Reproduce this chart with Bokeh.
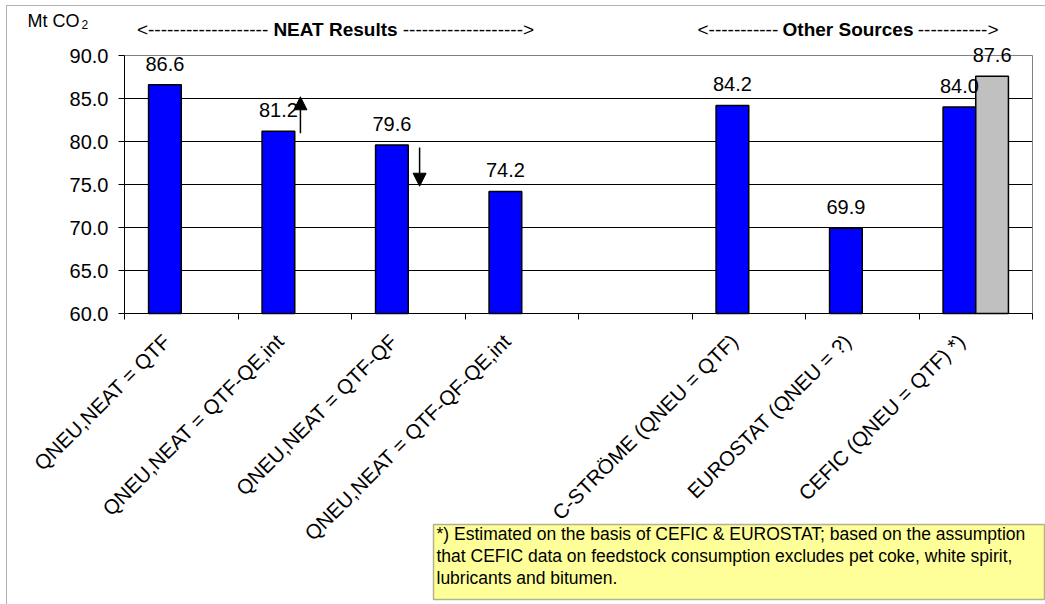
import math

from bokeh.core.properties import value
from bokeh.embed import file_html
from bokeh.models import (Arrow, BoxAnnotation, ColumnDataSource, FixedTicker,
                          Label, LabelSet, LinearAxis, NormalHead,
                          PrintfTickFormatter, Range1d)
from bokeh.plotting import figure
from bokeh.resources import INLINE

# --- data -------------------------------------------------------------------
categories = [
    "QNEU,NEAT = QTF",
    "QNEU,NEAT = QTF-QE,int",
    "QNEU,NEAT = QTF-QF",
    "QNEU,NEAT = QTF-QF-QE,int",
    "",
    "C-STRÖME (QNEU = QTF)",
    "EUROSTAT (QNEU = ?)",
    "CEFIC (QNEU = QTF) *)",
]
main_values = [86.6, 81.2, 79.6, 74.2, None, 84.2, 69.9, 84.0]
estimate_values = [None, None, None, None, None, None, None, 87.6]

y_ticks = [60.0, 65.0, 70.0, 75.0, 80.0, 85.0, 90.0]

# trend arrows next to two NEAT bars: (category index, offset, from, to)
arrow_marks = [(1, 0.05, 80.95, 85.2), (2, 0.10, 79.3, 74.8)]

group_headers = ["NEAT Results", "Other Sources"]
note_lines = [
    "*) Estimated on the basis of CEFIC & EUROSTAT; based on the assumption",
    "that CEFIC data on feedstock consumption excludes pet coke, white spirit,",
    "lubricants and bitumen.",
]

# --- layout constants (canvas pixels) -----------------------------------------
FONT = "Liberation Sans"
W, H = 1045, 604
PX_LEFT, PX_RIGHT, PX_TOP, PX_BOTTOM = 124, 1032, 55, 313
BAR_W = 0.288
n = len(categories)
Y0, Y1 = y_ticks[0], y_ticks[-1]

# the frame fills the whole canvas; the value area sits inside it
sx = (PX_RIGHT - PX_LEFT) / n
sy = (PX_BOTTOM - PX_TOP) / (Y1 - Y0)
x_range = Range1d(-PX_LEFT / sx, n + (W - PX_RIGHT) / sx)
y_range = Range1d(Y0 - (H - PX_BOTTOM) / sy, Y1 + PX_TOP / sy)

p = figure(width=W, height=H, x_range=x_range, y_range=y_range,
           x_axis_location=None, y_axis_location=None,
           output_backend="svg", toolbar_location=None,
           min_border=0, min_border_left=0, min_border_right=0,
           min_border_top=0, min_border_bottom=0)
p.background_fill_color = "white"
p.border_fill_color = "white"
p.outline_line_color = None
p.grid.visible = False

# horizontal gridlines and the grey plot-area border
inner = y_ticks[1:-1]
p.segment(x0=[0] * len(inner), x1=[n] * len(inner), y0=inner, y1=inner,
          line_color="black", line_width=1)
p.line(x=[0, n, n], y=[Y1, Y1, Y0], line_color="#808080", line_width=1)

def bar_source(values, shift):
    xs, tops, texts = [], [], []
    for i, v in enumerate(values):
        if v is None:
            continue
        xs.append(i + 0.5 + shift)
        tops.append(v)
        texts.append(f"{v:.1f}")
    return ColumnDataSource(dict(x=xs, top=tops, text=texts))

main_src = bar_source(main_values, -BAR_W / 2)
est_src = bar_source(estimate_values, BAR_W / 2)

p.vbar(x="x", top="top", bottom=Y0, width=BAR_W, source=main_src,
       fill_color="#0000FF", line_color="black", line_width=1.5)
p.vbar(x="x", top="top", bottom=Y0, width=BAR_W, source=est_src,
       fill_color="#C0C0C0", line_color="black", line_width=1.5)

for src in (main_src, est_src):
    p.add_layout(LabelSet(x="x", y="top", text="text", source=src,
                          y_offset=14, text_align="center",
                          text_baseline="alphabetic", text_font=value(FONT),
                          text_font_size="20px", text_color="black"))

for idx, off, y0, y1 in arrow_marks:
    xa = idx + 0.5 + off
    p.add_layout(Arrow(end=NormalHead(size=13, fill_color="black",
                                      line_color="black", line_width=1),
                       x_start=xa, y_start=y0, x_end=xa, y_end=y1,
                       line_color="black", line_width=1.5))

# --- axes (pinned to the edges of the value area) -----------------------------
yax = LinearAxis(fixed_location=0, bounds=(Y0, Y1),
                 ticker=FixedTicker(ticks=y_ticks),
                 formatter=PrintfTickFormatter(format="%.1f"))
yax.major_label_text_font = FONT
yax.major_label_text_font_size = "20px"
yax.major_label_text_color = "black"
yax.major_tick_out = 6
yax.major_tick_in = 0
yax.minor_tick_line_color = None
yax.axis_line_color = "black"
yax.major_tick_line_color = "black"
yax.major_label_standoff = 10
p.add_layout(yax, "left")

# category names sit slightly left of each slot centre; tick marks on slot edges
label_pos = [i + 0.37 for i in range(n)]
xax = LinearAxis(fixed_location=Y0, bounds=(0, n),
                 ticker=FixedTicker(ticks=label_pos,
                                    minor_ticks=[float(i) for i in range(n + 1)]))
xax.major_label_overrides = {x: c for x, c in zip(label_pos, categories)}
xax.major_label_orientation = math.pi / 4
xax.major_label_text_font = FONT
xax.major_label_text_font_size = "20.5px"
xax.major_label_text_color = "black"
xax.major_tick_line_color = None
xax.major_tick_out = 6
xax.major_tick_in = 0
xax.minor_tick_line_color = "black"
xax.minor_tick_out = 6
xax.minor_tick_in = 0
xax.axis_line_color = "black"
xax.major_label_standoff = 18
p.add_layout(xax, "below")

# --- chart border, unit, group headers, note ----------------------------------
def canvas_box(left, right, top, bottom, **kw):
    p.add_layout(BoxAnnotation(left=left, right=right, top=top, bottom=bottom,
                               left_units="canvas", right_units="canvas",
                               top_units="canvas", bottom_units="canvas", **kw))

def canvas_label(x, y, text, size, bold=False, align="left",
                 baseline="alphabetic"):
    p.add_layout(Label(x=x, y=y - 8, x_units="canvas", y_units="canvas",
                       text=text, text_font=FONT, text_font_size=size,
                       text_font_style="bold" if bold else "normal",
                       text_align=align, text_baseline=baseline,
                       text_color="black"))

canvas_box(6, W + 10, 5, H + 10, fill_color=None, line_color="black",
           line_width=1)

canvas_label(27, 28, "Mt CO", "18px")
canvas_label(81, 32, "2", "12px")

header_spans = [(273, 397, 19), (783, 912, 11)]
for name, (x_a, x_b, dashes) in zip(group_headers, header_spans):
    canvas_label((x_a + x_b) / 2, 37, name, "19px", bold=True, align="center")
    canvas_label(x_a, 37, "<" + "-" * dashes + "\u00a0", "19px", align="right")
    canvas_label(x_b, 37, "\u00a0" + "-" * dashes + ">", "19px", align="left")

canvas_box(433, 1044, 524, 599, fill_color="#FFFF99", fill_alpha=1,
           line_color="black", line_width=1.5)
for k, line in enumerate(note_lines):
    canvas_label(436, 541 + 22 * k, line, "17.5px")

open("out.html", "w").write(file_html(p, INLINE))
